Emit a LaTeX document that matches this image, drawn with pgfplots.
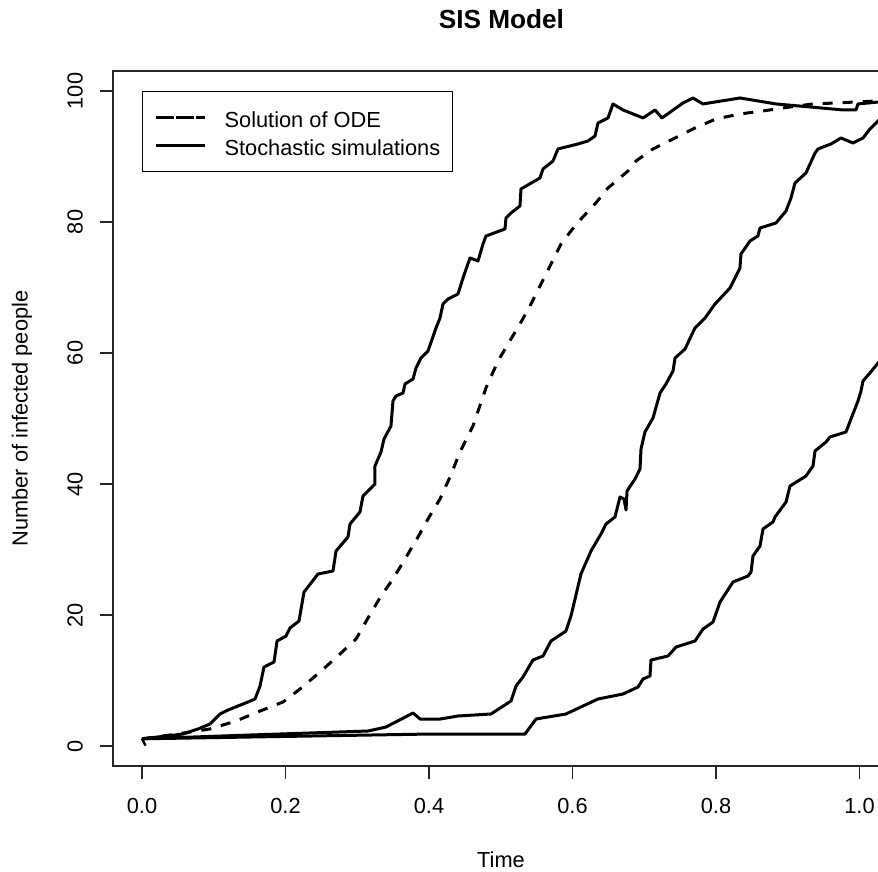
\documentclass[border=0pt]{standalone}
\usepackage{fontspec}
\setmainfont{Liberation Sans}
\usepackage{pgfplots}
\pgfplotsset{compat=1.18}

\begin{document}
\begin{tikzpicture}
\useasboundingbox (-56.5pt,-53pt) rectangle (382.5pt,383pt);
\begin{axis}[
    at={(0pt,0pt)}, anchor=south west,
    scale only axis,
    width=391.35pt, height=347.5pt,
    xmin=-0.04042, xmax=1.05046,
    ymin=-3.05, ymax=103.05,
    axis line style={black!85, line width=0.75pt},
    tick style={black!85, line width=0.75pt},
    major tick length=6.5pt,
    tick align=outside, tick pos=left,
    xtick={0,0.2,0.4,0.6,0.8,1},
    ytick={0,20,40,60,80,100},
    /pgf/number format/assume math mode=true,
    xticklabel={\pgfmathprintnumber[fixed,fixed zerofill,precision=1]{\tick}},
    yticklabel={\pgfmathprintnumber[fixed,precision=0]{\tick}},
    ticklabel style={font=\fontsize{10.9}{13}\selectfont, text=black},
    yticklabel style={rotate=90, anchor=south},
    xticklabel shift=6pt, yticklabel shift=5pt,
    title={SIS Model},
    title style={at={(axis description cs:0.4962,1.0748)}, anchor=center, yshift=-6pt,
        font=\bfseries\fontsize{13.1}{15}\selectfont},
    xlabel={Time},
    xlabel style={at={(axis description cs:0.4957,-0.1353)}, anchor=center,
        font=\fontsize{10.9}{13}\selectfont},
    ylabel={Number of infected people},
    ylabel style={at={(axis description cs:-0.1163,0.5)}, anchor=center,
        font=\fontsize{10.9}{13}\selectfont},
    legend style={at={(axis description cs:0.03705,0.97122)}, anchor=north west,
        draw=black, line width=0.6pt, inner xsep=6pt, inner ysep=7.65pt,
        row sep=3.5pt, column sep=9pt,
        font=\fontsize{10.9}{13}\selectfont,
        nodes={inner sep=0pt, text height=10.2pt, text depth=0.3pt}},
    legend cell align=left,
    legend image code/.code={
        \path (-4pt,0pt) -- (20.5pt,0pt);
        \draw[#1] (0pt,0pt) -- (20.5pt,0pt);},
]

% ODE solution
\addplot[black, line width=1.5pt, dash pattern=on 5pt off 5pt, line join=round] coordinates {
(0,1.1) (0.039,1.68) (0.0948,2.60) (0.1310,3.82) (0.1645,5.34) (0.1965,6.72)
(0.2202,8.70) (0.2481,11.30) (0.2760,14.05) (0.2983,16.34) (0.3150,19.54)
(0.3331,22.90) (0.3498,25.50) (0.3666,28.55) (0.3847,31.91) (0.3986,34.66)
(0.4153,37.71) (0.4293,41.07) (0.4432,44.89) (0.4613,48.85) (0.4794,54.66)
(0.4962,58.78) (0.5101,61.37) (0.5268,64.43) (0.5422,67.48) (0.5561,70.53)
(0.5700,73.59) (0.5840,76.64) (0.5979,78.63) (0.6118,80.46) (0.6314,82.75)
(0.6495,85.19) (0.6774,87.79) (0.6885,89.31) (0.7122,91.15) (0.7401,92.67)
(0.7707,94.35) (0.8000,95.73) (0.8334,96.49) (0.8655,96.95) (0.9031,97.56)
(0.9352,98.02) (0.9672,98.17) (0.9951,98.32) (1.03,98.5)
};
\addlegendentry{Solution of ODE}

% simulation 1
\addplot[black, line width=1.5pt, line join=round] coordinates {
(0,1.1) (0.0571,1.83) (0.0780,2.60) (0.0948,3.36) (0.1087,4.89) (0.1199,5.50)
(0.1477,6.72) (0.1575,7.18) (0.1645,9.16) (0.1700,12.06) (0.1840,12.82)
(0.1882,16.03) (0.2007,16.79) (0.2063,18.02) (0.2188,19.08) (0.2258,23.51)
(0.2453,26.26) (0.2662,26.72) (0.2704,29.77) (0.2871,31.91) (0.2899,33.89)
(0.3038,35.73) (0.3080,38.17) (0.3150,38.93) (0.3247,40.00) (0.3247,42.75)
(0.3331,44.89) (0.3373,46.87) (0.3470,48.85) (0.3498,52.67) (0.3540,53.44)
(0.3638,53.89) (0.3666,55.27) (0.3777,56.03) (0.3819,57.71) (0.3889,59.24)
(0.3986,60.31) (0.4098,63.82) (0.4153,65.34) (0.4195,67.48) (0.4265,68.24)
(0.4404,69.01) (0.4474,71.45) (0.4571,74.50) (0.4683,74.05) (0.4753,76.64)
(0.4794,77.86) (0.5059,78.93) (0.5073,80.61) (0.5143,81.37) (0.5268,82.44)
(0.5282,85.04) (0.5547,86.72) (0.5589,88.09) (0.5728,89.31) (0.5798,91.15)
(0.6077,91.91) (0.6216,92.37) (0.6314,93.13) (0.6355,95.11) (0.6495,95.88)
(0.6564,98.02) (0.6704,97.10) (0.6983,95.88) (0.7150,97.10) (0.7247,95.88)
(0.7540,98.17) (0.7679,98.93) (0.7819,98.02) (0.8334,98.93) (0.8836,98.02)
(0.9310,97.56) (0.9770,97.10) (0.9951,97.10) (0.9979,98.02) (1.03,98.35)
};
\addlegendentry{Stochastic simulations}

% simulation 2
\addplot[black, line width=1.5pt, line join=round, forget plot] coordinates {
(0,1.1) (0.1505,1.68) (0.3150,2.29) (0.3401,2.90) (0.3777,5.04) (0.3875,4.12)
(0.4153,4.12) (0.4404,4.58) (0.4864,4.89) (0.5143,6.87) (0.5213,9.16)
(0.5310,10.53) (0.5449,13.13) (0.5589,13.74) (0.5700,16.03) (0.5909,17.56)
(0.5979,19.85) (0.6118,26.26) (0.6258,29.77) (0.6397,32.37) (0.6467,33.89)
(0.6592,34.96) (0.6662,38.02) (0.6718,37.71) (0.6746,36.03) (0.6760,38.93)
(0.6871,40.76) (0.6941,42.29) (0.6955,45.34) (0.7010,47.94) (0.7122,50.08)
(0.7220,53.89) (0.7303,55.27) (0.7401,57.25) (0.7429,59.24) (0.7568,60.61)
(0.7707,63.82) (0.7847,65.34) (0.7986,67.48) (0.8195,69.92) (0.8334,72.98)
(0.8348,75.11) (0.8474,77.10) (0.8585,77.86) (0.8613,79.08) (0.8836,79.85)
(0.8976,81.68) (0.9045,83.66) (0.9101,85.95) (0.9254,87.48) (0.9380,90.53)
(0.9422,91.15) (0.9603,91.91) (0.9742,92.82) (0.9909,92.06) (1.0049,92.82)
(1.0146,94.20) (1.0258,95.42) (1.03,95.9)
};

% simulation 3
\addplot[black, line width=1.5pt, line join=round, forget plot] coordinates {
(0,1.1) (0.4014,1.83) (0.5338,1.83) (0.5491,4.12) (0.5909,4.89) (0.6355,7.18)
(0.6704,7.94) (0.6913,9.01) (0.6983,10.23) (0.7080,10.69) (0.7094,13.13)
(0.7331,13.74) (0.7443,15.11) (0.7707,16.03) (0.7819,17.86) (0.7958,18.93)
(0.8056,21.98) (0.8237,25.04) (0.8446,25.95) (0.8488,26.56) (0.8516,29.01)
(0.8613,30.53) (0.8655,33.13) (0.8794,34.20) (0.8822,34.96) (0.8976,37.25)
(0.9031,39.69) (0.9254,41.22) (0.9352,42.75) (0.9380,45.04) (0.9533,46.41)
(0.9589,47.18) (0.9812,47.94) (0.9881,49.92) (0.9979,52.67) (1.0021,54.20)
(1.0049,55.73) (1.0146,56.95) (1.0258,58.47) (1.03,59.0)
};

% initial step
\addplot[black, line width=1.2pt, forget plot] coordinates {(0,1.1) (0.005,0.05)};
\end{axis}
\end{tikzpicture}
\end{document}
